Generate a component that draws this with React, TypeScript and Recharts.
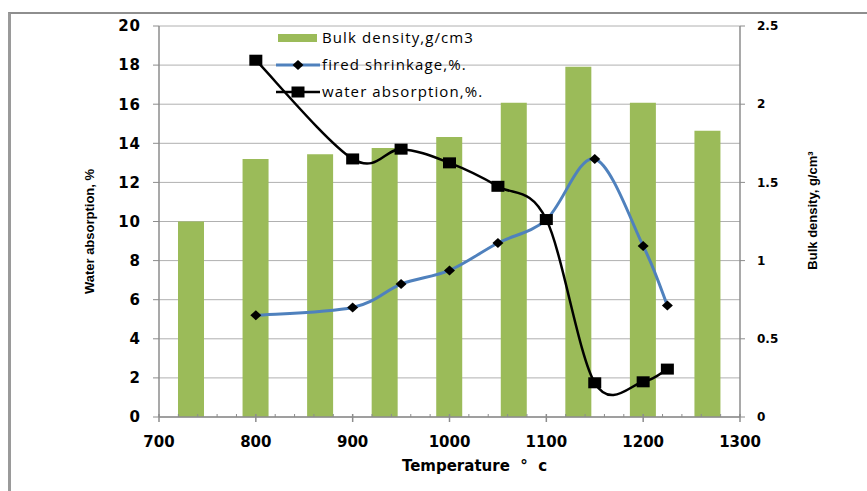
import React from 'react';
import { ComposedChart, Bar, Line, XAxis, YAxis, CartesianGrid, Legend } from 'recharts';

// ---- data ----
const bulkCategories = ['S1', 'S2', 'S3', 'S4', 'S5', 'S6', 'S7', 'S8', 'S9'];
const bulkDensity = [1.25, 1.65, 1.68, 1.72, 1.79, 2.01, 2.24, 2.01, 1.83];

const lineTemps = [800, 900, 950, 1000, 1050, 1100, 1150, 1200, 1225];
const firedShrinkage = [5.2, 5.6, 6.8, 7.5, 8.9, 10.1, 13.2, 8.75, 5.7];
const waterAbsorption = [18.25, 13.2, 13.7, 13.0, 11.8, 10.1, 1.75, 1.8, 2.45];

const xTickLabels = [700, 800, 900, 1000, 1100, 1200, 1300];
const xTicks = [
  700, 720, 740, 760, 780, 800, 820, 840, 860, 880, 900, 920, 940, 960, 980, 1000,
  1020, 1040, 1060, 1080, 1100, 1120, 1140, 1160, 1180, 1200, 1220, 1240, 1260, 1280, 1300,
];
const leftTicks = [0, 2, 4, 6, 8, 10, 12, 14, 16, 18, 20];
const rightTicks = [0, 0.5, 1, 1.5, 2, 2.5];

const legendItems = [
  { label: 'Bulk density,g/cm3', kind: 'bar' },
  { label: 'fired shrinkage,%.', kind: 'diamond' },
  { label: 'water absorption,%.', kind: 'square' },
];

// ---- derived tables ----
const barData = bulkCategories.map((c, i) => ({ cat: c, bulk: bulkDensity[i] }));
const shrinkData = lineTemps.map((t, i) => ({ temp: t, shrink: firedShrinkage[i] }));
const waterData = lineTemps.map((t, i) => ({ temp: t, water: waterAbsorption[i] }));

const GREEN = '#9BBB59';
const BLUE = '#4F81BD';
const AXIS = '#8c8c8c';
const GRID = '#b0b0b0';
const tickFont = "'DejaVu Sans', Verdana, sans-serif";
const narrowFont = "'Liberation Sans Narrow', 'Arial Narrow', 'Liberation Sans', Arial, sans-serif";
const legendFont = "'Open Sans', 'Noto Sans', sans-serif";

// Excel-like smoothed line (Catmull-Rom as cubic Bezier)
const excelSmooth: any = (context: any) => {
  let pts: [number, number][] = [];
  return {
    areaStart() {},
    areaEnd() {},
    lineStart() {
      pts = [];
    },
    lineEnd() {
      const n = pts.length;
      if (!n) return;
      context.moveTo(pts[0][0], pts[0][1]);
      if (n === 2) {
        context.lineTo(pts[1][0], pts[1][1]);
        return;
      }
      for (let i = 0; i < n - 1; i++) {
        const p0 = pts[Math.max(i - 1, 0)];
        const p1 = pts[i];
        const p2 = pts[i + 1];
        const p3 = pts[Math.min(i + 2, n - 1)];
        context.bezierCurveTo(
          p1[0] + (p2[0] - p0[0]) / 6,
          p1[1] + (p2[1] - p0[1]) / 6,
          p2[0] - (p3[0] - p1[0]) / 6,
          p2[1] - (p3[1] - p1[1]) / 6,
          p2[0],
          p2[1]
        );
      }
    },
    point(x: number, y: number) {
      pts.push([+x, +y]);
    },
  };
};

const SquareDot = (props: any) => {
  const { cx, cy, index } = props;
  if (cx == null || cy == null) return <g key={`sq-${index}`} />;
  return <rect key={`sq-${index}`} x={cx - 6.5} y={cy - 5.5} width={13} height={11} fill="#000" />;
};

const DiamondDot = (props: any) => {
  const { cx, cy, index } = props;
  if (cx == null || cy == null) return <g key={`dm-${index}`} />;
  return (
    <path
      key={`dm-${index}`}
      d={`M${cx},${cy - 5} L${cx + 5.5},${cy} L${cx},${cy + 5} L${cx - 5.5},${cy} Z`}
      fill="#000"
    />
  );
};

const XTick = (props: any) => {
  const { x, y, payload } = props;
  const v = payload.value;
  const major = xTickLabels.includes(v);
  if (!major) {
    return <line x1={x} x2={x} y1={y - 3} y2={y} stroke={AXIS} strokeWidth={1} />;
  }
  return (
    <g>
      <line x1={x} x2={x} y1={y - 3} y2={y + 5} stroke={AXIS} strokeWidth={1.5} />
      <text
        x={x}
        y={y + 30}
        textAnchor="middle"
        fontFamily={tickFont}
        fontWeight="bold"
        fontSize={15}
        fill="#000"
      >
        {v}
      </text>
    </g>
  );
};

const renderLegend = () => (
  <svg width={240} height={78} style={{ display: 'block', overflow: 'visible' }}>
    {legendItems.map((it, i) => {
      const cy = 10 + i * 27;
      return (
        <g key={it.label}>
          {it.kind === 'bar' && <rect x={4} y={cy - 4} width={39} height={8} fill={GREEN} />}
          {it.kind === 'diamond' && (
            <g>
              <line x1={2} x2={46} y1={cy} y2={cy} stroke={BLUE} strokeWidth={3} />
              <path d={`M24,${cy - 5} L29.5,${cy} L24,${cy + 5} L18.5,${cy} Z`} fill="#000" />
            </g>
          )}
          {it.kind === 'square' && (
            <g>
              <line x1={2} x2={46} y1={cy} y2={cy} stroke="#000" strokeWidth={2.5} />
              <rect x={17.5} y={cy - 5.5} width={13} height={11} fill="#000" />
            </g>
          )}
          <text x={48} y={cy + 5} fontFamily={legendFont} fontSize={15} letterSpacing={1.1} fill="#000">
            {it.label}
          </text>
        </g>
      );
    })}
  </svg>
);

export default function App() {
  return (
    <div style={{ position: 'absolute', left: 0, top: 0, width: 867, height: 491, background: '#fff', overflow: 'hidden' }}>
      <div
        style={{
          position: 'absolute',
          left: 8,
          top: 12,
          width: 859,
          height: 479,
          borderTop: '2px solid #8e8e8e',
          borderLeft: '3px solid #9a9a9a',
          boxSizing: 'border-box',
        }}
      />
      <div style={{ position: 'absolute', left: 0, top: 0 }}>
        <ComposedChart width={867} height={491} data={barData} margin={{ top: 26, right: 0, bottom: 0, left: 0 }}>
          <CartesianGrid xAxisId="num" yAxisId="left" vertical={false} stroke={GRID} strokeWidth={1} />
          <XAxis
            xAxisId="num"
            dataKey="temp"
            type="number"
            domain={[700, 1300]}
            allowDataOverflow
            ticks={xTicks}
            interval={0}
            tick={<XTick />}
            tickLine={false}
            tickSize={0}
            tickMargin={0}
            height={74}
            axisLine={{ stroke: AXIS, strokeWidth: 1.5 }}
            label={{
              value: 'Temperature \u00a0°\u00a0 c',
              position: 'center',
              dx: 25,
              dy: 12,
              fontFamily: tickFont,
              fontWeight: 'bold',
              fontSize: 15,
              fill: '#000',
            }}
          />
          <XAxis xAxisId="cat" dataKey="cat" type="category" hide height={0} />
          <YAxis
            yAxisId="left"
            orientation="left"
            width={159}
            domain={[0, 20]}
            ticks={leftTicks}
            interval={0}
            tickSize={6}
            tickMargin={12}
            axisLine={{ stroke: AXIS, strokeWidth: 1.5 }}
            tickLine={{ stroke: AXIS }}
            tick={{ fill: '#000', fontFamily: tickFont, fontWeight: 'bold', fontSize: 15, letterSpacing: 1 }}
            label={{
              value: 'Water absorption, %',
              angle: -90,
              position: 'center',
              dx: 10,
              dy: 10,
              fontFamily: narrowFont,
              fontWeight: 'bold',
              fontSize: 13,
              fill: '#000',
            }}
          />
          <YAxis
            yAxisId="right"
            orientation="right"
            width={127}
            domain={[0, 2.5]}
            ticks={rightTicks}
            interval={0}
            tickSize={5}
            tickMargin={12}
            axisLine={{ stroke: AXIS, strokeWidth: 1.5 }}
            tickLine={{ stroke: AXIS }}
            tick={{ fill: '#000', fontFamily: tickFont, fontWeight: 'bold', fontSize: 12 }}
            label={{
              value: 'Bulk density,  g/cm³',
              angle: -90,
              position: 'center',
              dx: 8.5,
              dy: -11,
              fontFamily: narrowFont,
              fontWeight: 'bold',
              fontSize: 13,
              fill: '#000',
            }}
          />
          <Bar
            xAxisId="cat"
            yAxisId="right"
            dataKey="bulk"
            name="Bulk density,g/cm3"
            fill={GREEN}
            barSize={26}
            isAnimationActive={false}
          />
          <Line
            xAxisId="num"
            yAxisId="left"
            data={shrinkData}
            dataKey="shrink"
            name="fired shrinkage,%."
            type={excelSmooth}
            stroke={BLUE}
            strokeWidth={3}
            dot={DiamondDot}
            activeDot={false}
            isAnimationActive={false}
          />
          <Line
            xAxisId="num"
            yAxisId="left"
            data={waterData}
            dataKey="water"
            name="water absorption,%."
            type={excelSmooth}
            stroke="#000"
            strokeWidth={2.5}
            dot={SquareDot}
            activeDot={false}
            isAnimationActive={false}
          />
          <Legend
            layout="vertical"
            align="center"
            verticalAlign="middle"
            wrapperStyle={{ left: 274, top: 28, width: 240, height: 78 }}
            content={renderLegend}
          />
        </ComposedChart>
      </div>
    </div>
  );
}
